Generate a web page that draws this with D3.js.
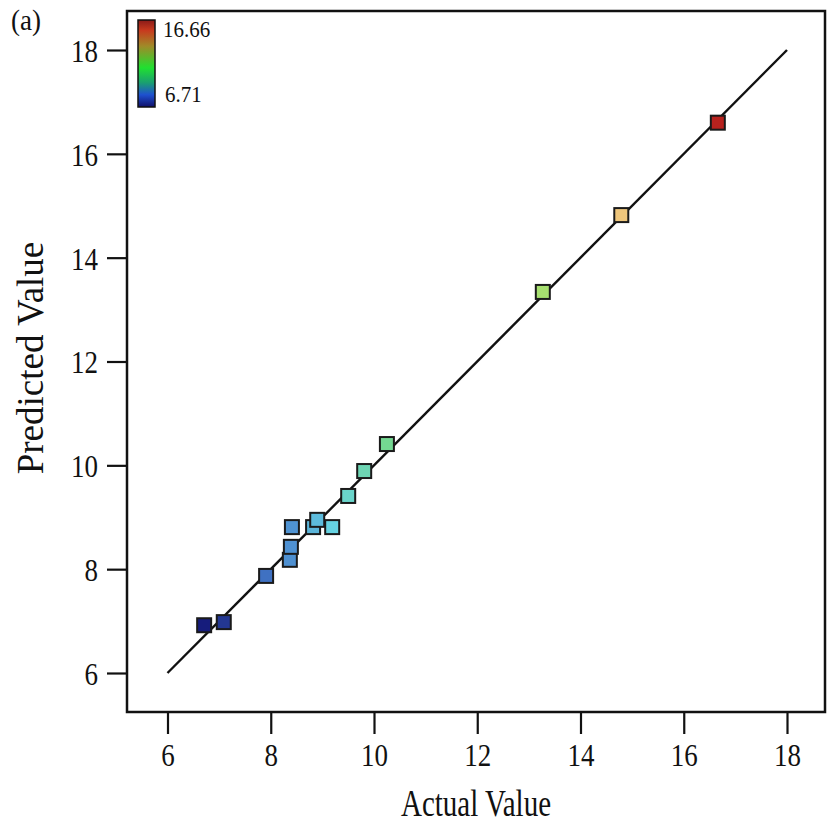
<!DOCTYPE html>
<html><head><meta charset="utf-8">
<script src="https://cdn.jsdelivr.net/npm/d3@7"></script>
<style>body{margin:0;background:#fff}svg{display:block}text{font-family:"Liberation Serif","DejaVu Serif",serif;fill:#111}</style>
</head><body>
<svg id="c" width="827" height="832"></svg>
<script>
const actual    = [6.71, 7.09, 7.91, 8.37, 8.39, 8.41, 8.82, 8.90, 9.19, 9.50, 9.81, 10.25, 13.27, 14.79, 16.66];
const predicted = [6.92, 6.98, 7.87, 8.18, 8.43, 8.81, 8.81, 8.95, 8.81, 9.41, 9.89, 10.41, 13.34, 14.82, 16.60];
const ticks = [6, 8, 10, 12, 14, 16, 18];
const colorStops = [6.71, 7.9, 8.4, 9.2, 10.25, 13.3, 14.8, 16.66];
const colorRange = ['#161c7c', '#3f70c2', '#4f92d2', '#66d4e2', '#74d892', '#a8e070', '#eec67c', '#b8221e'];
const legendMin = 6.71, legendMax = 16.66;

const svg = d3.select('#c');
const x = d3.scaleLinear().domain([6, 18]).range([167.5, 787]);
const y = d3.scaleLinear().domain([6, 18]).range([673, 50]);
const color = d3.scaleLinear().domain(colorStops).range(colorRange);

const L = 127, R = 825, T = 11, B = 712;
const SY = 1.2; // vertical stretch of the original picture

// axes
const xAxis = svg.append('g').attr('transform', `translate(0,${B})`)
  .call(d3.axisBottom(x).tickValues(ticks).tickSize(22).tickFormat(d3.format('d')));
const yAxis = svg.append('g').attr('transform', `translate(${L},0)`)
  .call(d3.axisLeft(y).tickValues(ticks).tickSize(20).tickFormat(d3.format('d')));
[xAxis, yAxis].forEach(g => {
  g.attr('font-family', null).attr('font-size', null).attr('fill', null);
  g.select('.domain').remove();
  g.selectAll('line').attr('stroke', '#111').attr('stroke-width', 2.2);
  g.selectAll('text').attr('fill', '#111').style('font-size', '27px');
});
xAxis.selectAll('text').attr('y', 0).attr('dy', '0.71em').attr('transform', `translate(0,31) scale(1,${SY})`);
yAxis.selectAll('text').attr('x', 0).attr('dy', '0.35em').attr('transform', `translate(-29,0) scale(1,${SY})`);

// frame
svg.append('rect').attr('x', L).attr('y', T).attr('width', R - L).attr('height', B - T)
  .attr('fill', 'none').attr('stroke', '#111').attr('stroke-width', 2.5);

// diagonal
svg.append('line').attr('x1', x(6)).attr('y1', y(6)).attr('x2', x(18)).attr('y2', y(18))
  .attr('stroke', '#111').attr('stroke-width', 2.4);

// points
const s = 14;
svg.append('g').selectAll('rect').data(actual.map((a, i) => ({a, p: predicted[i]})))
  .join('rect')
  .attr('x', d => x(d.a) - s / 2).attr('y', d => y(d.p) - s / 2)
  .attr('width', s).attr('height', s)
  .attr('fill', d => color(d.a)).attr('stroke', '#1a1a1a').attr('stroke-width', 2);

// legend
const defs = svg.append('defs');
const grad = defs.append('linearGradient').attr('id', 'g').attr('x1', 0).attr('x2', 0).attr('y1', 0).attr('y2', 1);
[[0, '#8a1a18'], [0.12, '#c83a1e'], [0.3, '#a08a28'], [0.55, '#20e030'], [0.72, '#1aa070'], [0.86, '#1e50d0'], [1, '#10106a']]
  .forEach(([o, c]) => grad.append('stop').attr('offset', o).attr('stop-color', c));
svg.append('rect').attr('x', 138).attr('y', 20).attr('width', 17).attr('height', 87)
  .attr('fill', 'url(#g)').attr('stroke', '#111').attr('stroke-width', 1.5);

function label(txt, tx, ty, size, sy, anchor, rot) {
  return svg.append('text')
    .attr('transform', `translate(${tx},${ty})` + (rot ? ` rotate(${rot})` : '') + ` scale(1,${sy})`)
    .attr('text-anchor', anchor || 'start')
    .style('font-size', size + 'px')
    .text(txt);
}
label(legendMax.toFixed(2), 163, 37, 21, 1.1);
label(legendMin.toFixed(2), 165, 102, 21, 1.1);
label('(a)', 11, 30, 27, 1.1);
label('Actual Value', 476, 816, 29, 1.3, 'middle');
label('Predicted Value', 43, 358, 37, 1.0, 'middle', -90);
</script>
</body></html>
